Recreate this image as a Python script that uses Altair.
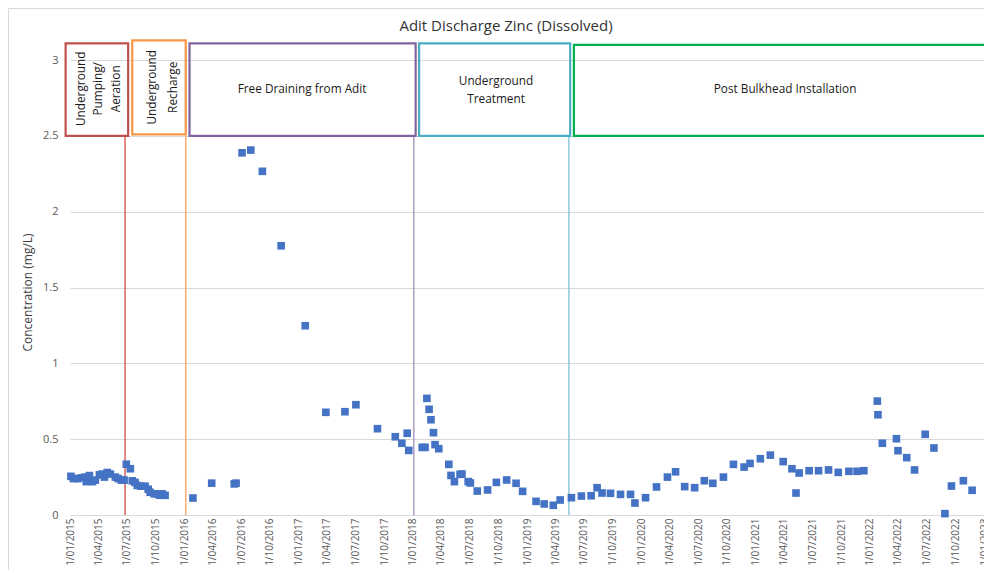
import altair as alt
import pandas as pd

# ---- data ----
sample_dates = [
    "2015-01-04", "2015-01-12", "2015-01-25", "2015-02-07", "2015-02-19", "2015-02-22",
    "2015-03-04", "2015-03-14", "2015-03-23", "2015-04-05", "2015-04-14", "2015-04-21",
    "2015-04-30", "2015-05-10", "2015-05-26", "2015-06-04", "2015-06-14", "2015-06-23",
    "2015-06-30", "2015-07-13", "2015-07-19", "2015-07-28", "2015-08-04", "2015-08-16",
    "2015-08-29", "2015-09-08", "2015-09-14", "2015-09-27", "2015-10-10", "2015-10-16",
    "2015-10-22", "2015-11-01", "2016-01-29", "2016-03-29", "2016-06-09", "2016-06-15",
    "2016-07-04", "2016-08-01", "2016-09-07", "2016-11-06", "2017-01-22", "2017-03-29",
    "2017-05-29", "2017-07-03", "2017-09-10", "2017-11-06", "2017-11-27", "2017-12-14",
    "2017-12-19", "2018-01-31", "2018-02-09", "2018-02-15", "2018-02-22", "2018-02-28",
    "2018-03-08", "2018-03-13", "2018-03-25", "2018-04-26", "2018-05-03", "2018-05-14",
    "2018-06-01", "2018-06-07", "2018-06-27", "2018-07-04", "2018-07-26", "2018-08-28",
    "2018-09-25", "2018-10-28", "2018-11-27", "2018-12-18", "2019-01-30", "2019-02-25",
    "2019-03-26", "2019-04-17", "2019-05-23", "2019-06-24", "2019-07-25", "2019-08-13",
    "2019-08-29", "2019-09-25", "2019-10-27", "2019-11-28", "2019-12-12", "2020-01-15",
    "2020-02-19", "2020-03-25", "2020-04-20", "2020-05-19", "2020-06-20", "2020-07-21",
    "2020-08-17", "2020-09-20", "2020-10-22", "2020-11-25", "2020-12-14", "2021-01-16",
    "2021-02-17", "2021-03-30", "2021-04-27", "2021-05-10", "2021-05-20", "2021-06-21",
    "2021-07-21", "2021-08-22", "2021-09-22", "2021-10-26", "2021-11-21", "2021-12-13",
    "2022-01-25", "2022-01-27", "2022-02-10", "2022-03-27", "2022-04-01", "2022-04-29",
    "2022-05-24", "2022-06-27", "2022-07-25", "2022-08-29", "2022-09-19", "2022-10-27",
    "2022-11-24",
]
zinc_mg_l = [
    0.255, 0.24, 0.24, 0.245, 0.25, 0.22,
    0.26, 0.22, 0.23, 0.265, 0.27, 0.25,
    0.28, 0.27, 0.25, 0.24, 0.23, 0.23,
    0.335, 0.305, 0.225, 0.215, 0.195, 0.19,
    0.19, 0.17, 0.15, 0.14, 0.135, 0.13,
    0.14, 0.13, 0.112, 0.21, 0.205, 0.21,
    2.388, 2.406, 2.266, 1.775, 1.248, 0.677,
    0.681, 0.727, 0.569, 0.516, 0.473, 0.539,
    0.426, 0.446, 0.446, 0.769, 0.697, 0.628,
    0.543, 0.464, 0.437, 0.334, 0.261, 0.22,
    0.268, 0.27, 0.22, 0.211, 0.158, 0.165,
    0.215, 0.231, 0.209, 0.156, 0.09, 0.073,
    0.064, 0.099, 0.114, 0.125, 0.127, 0.18,
    0.145, 0.143, 0.136, 0.136, 0.079, 0.114,
    0.185, 0.25, 0.285, 0.187, 0.18, 0.226,
    0.209, 0.25, 0.334, 0.316, 0.34, 0.371,
    0.395, 0.352, 0.305, 0.145, 0.277, 0.292,
    0.292, 0.297, 0.281, 0.288, 0.288, 0.292,
    0.751, 0.661, 0.473, 0.503, 0.424, 0.378,
    0.297, 0.532, 0.442, 0.009, 0.191, 0.226,
    0.163,
]

tick_dates = [
    "2015-01-01", "2015-04-01", "2015-07-01", "2015-10-01",
    "2016-01-01", "2016-04-01", "2016-07-01", "2016-10-01",
    "2017-01-01", "2017-04-01", "2017-07-01", "2017-10-01",
    "2018-01-01", "2018-04-01", "2018-07-01", "2018-10-01",
    "2019-01-01", "2019-04-01", "2019-07-01", "2019-10-01",
    "2020-01-01", "2020-04-01", "2020-07-01", "2020-10-01",
    "2021-01-01", "2021-04-01", "2021-07-01", "2021-10-01",
    "2022-01-01", "2022-04-01", "2022-07-01", "2022-10-01",
    "2023-01-01",
]
y_ticks = [0, 0.5, 1, 1.5, 2, 2.5, 3]

# phase boxes
box_names = ["pumping", "recharge", "free", "treatment", "bulkhead"]
box_start = ["2014-12-18", "2015-07-19", "2016-01-18", "2018-01-21", "2019-05-31"]
box_end = ["2015-07-06", "2016-01-06", "2018-01-10", "2019-05-19", "2023-03-15"]
box_low = [2.5, 2.51, 2.5, 2.5, 2.5]
box_high = [3.11, 3.13, 3.11, 3.11, 3.10]
box_colors = ["#C0504D", "#F79646", "#8064A2", "#4BACC6", "#00B050"]

# phase divider lines
line_dates = ["2015-06-26", "2016-01-06", "2018-01-04", "2019-05-15"]
line_colors = ["#DC6B68", "#F9B27A", "#B3A2C7", "#93CDDD"]

# phase labels (anchor = first line of each label)
label_text = ["Underground\nPumping/\nAeration", "Free Draining from Adit",
              "Underground\nTreatment", "Post Bulkhead Installation"]
label_date = ["2015-02-04", "2017-01-12", "2018-09-24", "2021-04-05"]
label_y = [2.81, 2.81, 2.86, 2.81]
label_angle = [270, 0, 0, 0]
recharge_text = ["Underground\nRecharge"]
recharge_date = ["2015-09-20"]
recharge_y = [2.82]


def ms(d):
    return int(pd.Timestamp(d, tz="UTC").timestamp() * 1000)


FONT = "Open Sans"
x_scale = alt.Scale(type="utc", domain=[ms("2015-01-01"), ms("2023-01-01")])
y_scale = alt.Scale(domain=[0, 3], nice=False)

x_axis = alt.Axis(values=[ms(d) for d in tick_dates],
                  labelExpr="utcFormat(datum.value, '%-d/%m/%Y')",
                  labelAngle=-90, labelAlign="right",
                  labelBaseline="middle", labelPadding=3, ticks=False,
                  grid=False, domainColor="#D9D9D9", labelColor="#595959",
                  labelFontSize=10, labelFont=FONT, labelOverlap=False,
                  labelFlush=False, labelBound=False)
y_axis = alt.Axis(values=y_ticks, format="~g", domain=False, ticks=False,
                  grid=True, gridColor="#D9D9D9", labelPadding=12,
                  labelFontSize=11, labelFont=FONT, labelColor="#595959",
                  titleFont=FONT, titleFontSize=12, titleFontWeight="normal",
                  titleColor="#404040", titleAngle=270, titleX=-43, titleY=232,
                  titleAlign="center", titleBaseline="middle")

pts = pd.DataFrame({"date": sample_dates, "zinc": zinc_mg_l})
boxes = pd.DataFrame({"name": box_names, "start": box_start, "end": box_end,
                      "low": box_low, "high": box_high, "color": box_colors})
lines = pd.DataFrame({"date": line_dates, "color": line_colors,
                      "low": [0] * len(line_dates), "high": [2.5] * len(line_dates)})
labels = pd.DataFrame({"text": label_text, "date": label_date, "y": label_y,
                       "angle": label_angle})
recharge = pd.DataFrame({"text": recharge_text, "date": recharge_date, "y": recharge_y})

frame = alt.Chart(pd.DataFrame({"a": [0]})).mark_rect(
    filled=False, stroke="#D9D9D9", strokeWidth=1
).encode(x=alt.value(-61.5), x2=alt.value(1200), y=alt.value(-51.5), y2=alt.value(900))

points = alt.Chart(pts).mark_point(
    shape="square", filled=True, size=58, color="#4472C4", opacity=1
).encode(
    x=alt.X("date:T", scale=x_scale, title=None, axis=x_axis),
    y=alt.Y("zinc:Q", scale=y_scale, title="Concentration (mg/L)", axis=y_axis),
)

vlines = alt.Chart(lines).mark_rule(strokeWidth=1.6).encode(
    x=alt.X("date:T", scale=x_scale, title=None, axis=x_axis),
    y=alt.Y("low:Q", scale=y_scale, title="Concentration (mg/L)", axis=y_axis),
    y2="high:Q",
    color=alt.Color("color:N", scale=None),
)

rects = alt.Chart(boxes).mark_rect(filled=False, strokeWidth=2.2).encode(
    x=alt.X("start:T", scale=x_scale, title=None, axis=x_axis),
    x2="end:T",
    y=alt.Y("low:Q", scale=y_scale, title="Concentration (mg/L)", axis=y_axis),
    y2="high:Q",
    color=alt.Color("color:N", scale=None),
)

texts = alt.Chart(labels).mark_text(
    font=FONT, fontSize=11.8, color="#1A1A1A", lineBreak="\n", lineHeight=17.5,
    align="center", baseline="middle"
).encode(
    x=alt.X("date:T", scale=x_scale, title=None, axis=x_axis),
    y=alt.Y("y:Q", scale=y_scale, title="Concentration (mg/L)", axis=y_axis),
    text="text:N",
    angle=alt.Angle("angle:Q", scale=None),
)

texts2 = alt.Chart(recharge).mark_text(
    font=FONT, fontSize=11.8, color="#1A1A1A", lineBreak="\n", lineHeight=21,
    align="center", baseline="middle", angle=270
).encode(
    x=alt.X("date:T", scale=x_scale, title=None, axis=x_axis),
    y=alt.Y("y:Q", scale=y_scale, title="Concentration (mg/L)", axis=y_axis),
    text="text:N",
)

chart = alt.layer(frame, vlines, points, rects, texts, texts2).properties(
    width=914, height=455,
    autosize=alt.AutoSizeParams(type="none"),
    padding={"left": 62, "top": 52, "right": 0, "bottom": 55},
    background="white",
    title=alt.TitleParams("Adit Discharge Zinc (Dissolved)", font=FONT, fontSize=15,
                          fontWeight="normal", color="#333333", anchor="middle",
                          dx=-21, offset=0, dy=26),
).configure_view(stroke=None).configure_axisX(labelOverlap=False)

chart.save("out.html", embed_options={"renderer": "svg", "actions": False})
